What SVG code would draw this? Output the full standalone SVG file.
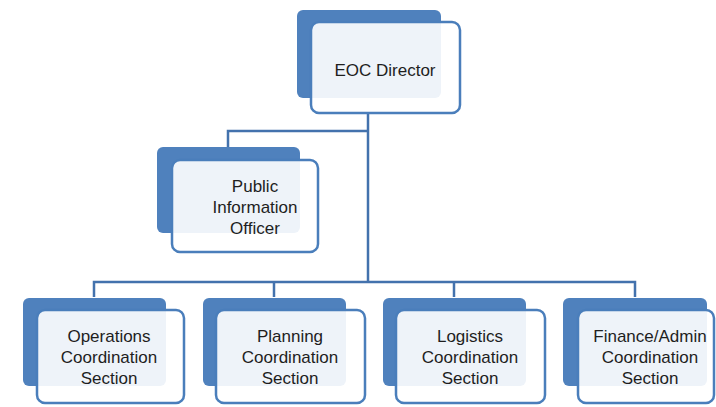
<svg xmlns="http://www.w3.org/2000/svg" width="716" height="407" viewBox="0 0 716 407">
<style>
.back{fill:#4f81bd;}
.front{fill:#ffffff;fill-opacity:0.9;stroke:#4a7ebb;stroke-width:2.5;}
.lbl{font-family:"Liberation Sans",Arial,sans-serif;font-size:17px;fill:#1e1e1e;text-anchor:middle;}
.conn{fill:none;stroke:#4372ad;stroke-width:2.5;}
</style>
<rect width="716" height="407" fill="#ffffff"/>
<g id="connectors">
<path class="conn" d="M368 113 V282"/>
<path class="conn" d="M368 131 H228 V147"/>
<path class="conn" d="M94 297 V282 H635 V297"/>
<path class="conn" d="M274 282 V297"/>
<path class="conn" d="M454 282 V297"/>
</g>
<g id="eoc-director">
<rect class="back" x="297" y="10" width="144" height="88" rx="6"/>
<rect class="front" x="311" y="22" width="149" height="91" rx="8"/>
<text class="lbl" x="385" y="76">EOC Director</text>
</g>
<g id="pio">
<rect class="back" x="157" y="147" width="143" height="86" rx="6"/>
<rect class="front" x="172" y="160" width="146" height="92" rx="8"/>
<text class="lbl" x="255" y="192">Public</text>
<text class="lbl" x="255" y="213">Information</text>
<text class="lbl" x="255" y="234">Officer</text>
</g>
<g id="operations">
<rect class="back" x="23" y="298" width="143" height="88" rx="6"/>
<rect class="front" x="37" y="310" width="147" height="93" rx="8"/>
<text class="lbl" x="109" y="342">Operations</text>
<text class="lbl" x="109" y="363">Coordination</text>
<text class="lbl" x="109" y="384">Section</text>
</g>
<g id="planning">
<rect class="back" x="203" y="298" width="143" height="88" rx="6"/>
<rect class="front" x="216" y="310" width="149" height="93" rx="8"/>
<text class="lbl" x="290" y="342">Planning</text>
<text class="lbl" x="290" y="363">Coordination</text>
<text class="lbl" x="290" y="384">Section</text>
</g>
<g id="logistics">
<rect class="back" x="383" y="298" width="143" height="88" rx="6"/>
<rect class="front" x="396" y="310" width="149" height="93" rx="8"/>
<text class="lbl" x="470" y="342">Logistics</text>
<text class="lbl" x="470" y="363">Coordination</text>
<text class="lbl" x="470" y="384">Section</text>
</g>
<g id="finance">
<rect class="back" x="563" y="298" width="144" height="88" rx="6"/>
<rect class="front" x="578" y="310" width="136" height="93" rx="8"/>
<text class="lbl" x="650" y="342">Finance/Admin</text>
<text class="lbl" x="650" y="363">Coordination</text>
<text class="lbl" x="650" y="384">Section</text>
</g>
</svg>
